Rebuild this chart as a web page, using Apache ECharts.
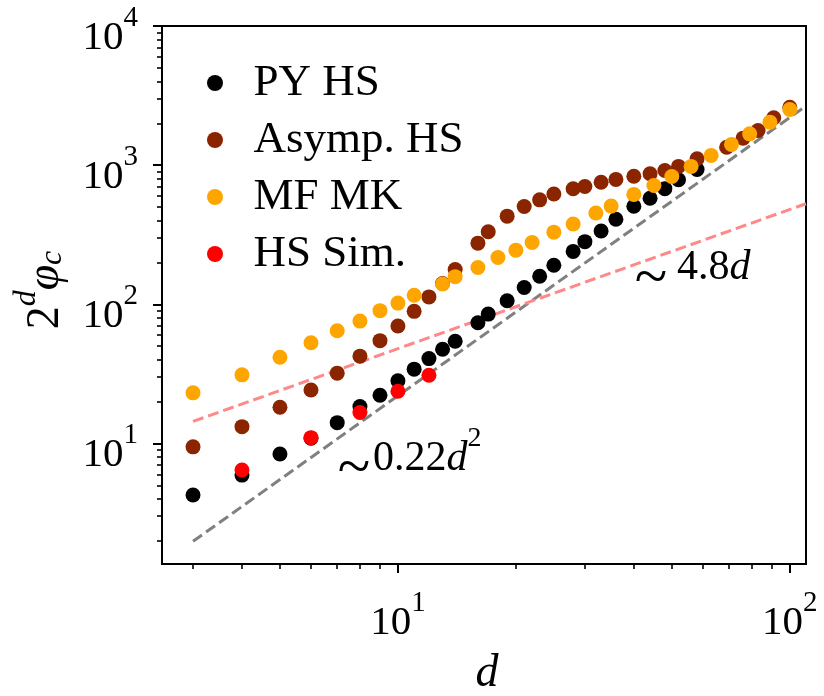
<!DOCTYPE html>
<html><head><meta charset="utf-8">
<script src="https://cdn.jsdelivr.net/npm/echarts@6/dist/echarts.min.js"></script>
<style>html,body{margin:0;padding:0;background:#fff}#c{width:824px;height:696px}</style>
</head><body><div id="c"></div>
<script>
// ---- data ----
const dPY   = [3,4,5,6,7,8,9,10,11,12,13,14,16,17,19,21,23,25,28,30,33,36,40,44,48,52,58];
const phiPY = [4.26,5.92,8.4,10.9,14.1,18.4,22.2,28.2,34.2,40.7,47.5,54.2,73.6,85,106,132,159,191,240,282,336,408,507,578,678,786,930];

const dAS   = [3,4,5,6,7,8,9,10,11,12,13,14,16,17,19,21,23,25,28,30,33,36,40,44,48,52,58,69,76,83,91,100];
const phiAS = [9.45,13.2,18.2,24.2,32,42.4,54.8,69.8,89,113,141,178,275,332,430,505,563,620,677,703,753,790,833,867,916,979,1112,1346,1563,1775,2189,2607];

const dMF   = [3,4,5,6,7,8,9,10,11,13,14,16,18,20,22,25,28,32,35,40,45,50,56,63,71,79,89,100];
const phiMF = [23.1,31.1,41.6,52.9,64.5,75.7,90,102,116,140,158,184,217,245,278,330,378,453,508,616,714,829,979,1175,1409,1679,2037,2512];

const dSim   = [4,6,8,10,12];
const phiSim = [6.45,11.0,16.7,23.7,30.9];

const dFit     = [3,110];
const fitQuad  = [1.98,2662];   // ~0.22 d^2
const fitLin   = [14.4,528];    // ~4.8 d

const xMajor = [10,100];
const xMinor = [3,4,5,6,7,8,9,20,30,40,50,60,70,80,90];
const yMajor = [10,100,1000,10000];
const yMinor = [2,3,4,5,6,7,8,9,20,30,40,50,60,70,80,90,200,300,400,500,600,700,800,900,2000,3000,4000,5000,6000,7000,8000,9000];

const seriesNames = ['PY HS','Asymp. HS','MF MK','HS Sim.'];
const colors = ['#000000','#8b2500','#ffa500','#ff0000'];

// ---- chart ----
const FONT = "'Liberation Serif','DejaVu Serif',serif";
const zip = (xs, ys) => xs.map((x, i) => [x, ys[i]]);
const supRich = {
  b: {fontFamily: FONT, fontSize: 41, lineHeight: 55, verticalAlign: 'bottom', color: '#000'},
  s: {fontFamily: FONT, fontSize: 29, lineHeight: 29, verticalAlign: 'top', color: '#000'}
};
const powFmt = v => '{b|10}{s|' + Math.round(Math.log10(v)) + '}';

const chart = echarts.init(document.getElementById('c'), null, {renderer: 'canvas'});
const scat = (name, xs, ys, color) => ({
  name, type: 'scatter', data: zip(xs, ys), symbol: 'circle', symbolSize: 15,
  itemStyle: {color, opacity: 1}, z: 3, emphasis: {disabled: true}
});
const annRich = {
  n: {fontFamily: FONT, fontSize: 42, lineHeight: 55, verticalAlign: 'bottom', fill: '#000'},
  i: {fontFamily: FONT, fontSize: 42, lineHeight: 55, verticalAlign: 'bottom', fontStyle: 'italic', fill: '#000'},
  s: {fontFamily: FONT, fontSize: 28, lineHeight: 28, verticalAlign: 'top', fill: '#000'}
};
const tildeFont = "60px 'Liberation Serif','DejaVu Serif',serif";

chart.setOption({
  animation: false,
  backgroundColor: '#fff',
  grid: {left: 162, right: 18, top: 26, bottom: 132, show: true, borderColor: '#000', borderWidth: 2, backgroundColor: 'transparent'},
  legend: {
    data: seriesNames, orient: 'vertical', left: 202, top: 55,
    icon: 'circle', itemWidth: 67, itemHeight: 16, itemGap: 11,
    textStyle: {fontFamily: FONT, fontSize: 45, lineHeight: 46, color: '#000'}
  },
  xAxis: [
    {type: 'log', logBase: 10, min: 2.5, max: 110, position: 'bottom',
     axisLine: {show: false, onZero: false}, splitLine: {show: false},
     axisTick: {show: true, customValues: xMajor, length: 9, lineStyle: {color: '#000', width: 2}},
     axisLabel: {customValues: xMajor, formatter: powFmt, margin: 25, rich: supRich}},
    {type: 'log', logBase: 10, min: 2.5, max: 110, position: 'bottom', gridIndex: 0,
     axisLine: {show: false, onZero: false}, splitLine: {show: false},
     axisTick: {show: true, customValues: xMinor, length: 5, lineStyle: {color: '#000', width: 1.6}},
     axisLabel: {show: false}}
  ],
  yAxis: [
    {type: 'log', logBase: 10, min: 1.36, max: 10000, position: 'left',
     axisLine: {show: false, onZero: false}, splitLine: {show: false},
     axisTick: {show: true, customValues: yMajor, length: 9, lineStyle: {color: '#000', width: 2}},
     axisLabel: {customValues: yMajor, formatter: powFmt, margin: 24, rich: supRich, padding: [10, 0, 0, 0]}},
    {type: 'log', logBase: 10, min: 1.36, max: 10000, position: 'left', gridIndex: 0,
     axisLine: {show: false, onZero: false}, splitLine: {show: false},
     axisTick: {show: true, customValues: yMinor, length: 5, lineStyle: {color: '#000', width: 1.6}},
     axisLabel: {show: false}}
  ],
  series: [
    {name: 'fitQuad', type: 'line', data: zip(dFit, fitQuad), symbol: 'none', z: 2,
     lineStyle: {color: '#808080', width: 3, type: [11, 5]}, emphasis: {disabled: true}},
    {name: 'fitLin', type: 'line', data: zip(dFit, fitLin), symbol: 'none', z: 2,
     lineStyle: {color: '#ff8888', width: 3, type: [11, 5]}, emphasis: {disabled: true}},
    scat(seriesNames[0], dPY, phiPY, colors[0]),
    scat(seriesNames[1], dAS, phiAS, colors[1]),
    scat(seriesNames[2], dMF, phiMF, colors[2]),
    scat(seriesNames[3], dSim, phiSim, colors[3])
  ],
  graphic: [
    {type: 'text', x: 651, y: 280, silent: true, style: {
      text: '~', align: 'center', verticalAlign: 'middle', font: tildeFont, fill: '#000'}},
    {type: 'text', x: 677, y: 261, silent: true, style: {
      text: '{n|4.8}{i|d}', align: 'left', verticalAlign: 'middle', rich: annRich}},
    {type: 'text', x: 354, y: 470, silent: true, style: {
      text: '~', align: 'center', verticalAlign: 'middle', font: tildeFont, fill: '#000'}},
    {type: 'text', x: 373, y: 452, silent: true, style: {
      text: '{n|0.22}{i|d}{s|2}', align: 'left', verticalAlign: 'middle', rich: annRich}},
    {type: 'text', x: 487, y: 674, silent: true, style: {
      text: 'd', align: 'center', verticalAlign: 'middle',
      font: "italic 46px 'Liberation Serif','DejaVu Serif',serif", fill: '#000'}},
    {type: 'text', x: 40, y: 290, rotation: Math.PI / 2, silent: true, style: {
      text: '{a|2}{b|d}{c|φ}{e|c}', align: 'center', verticalAlign: 'middle',
      rich: {a: {fontFamily: FONT, fontSize: 46, lineHeight: 58, verticalAlign: 'bottom', fill: '#000'},
             b: {fontFamily: FONT, fontSize: 32, lineHeight: 32, verticalAlign: 'top', fontStyle: 'italic', fill: '#000'},
             c: {fontFamily: FONT, fontSize: 46, lineHeight: 58, verticalAlign: 'bottom', fontStyle: 'italic', fill: '#000'},
             e: {fontFamily: FONT, fontSize: 32, lineHeight: 32, verticalAlign: 'bottom', fontStyle: 'italic', fill: '#000'}}}}
  ]
});
</script>
</body></html>
